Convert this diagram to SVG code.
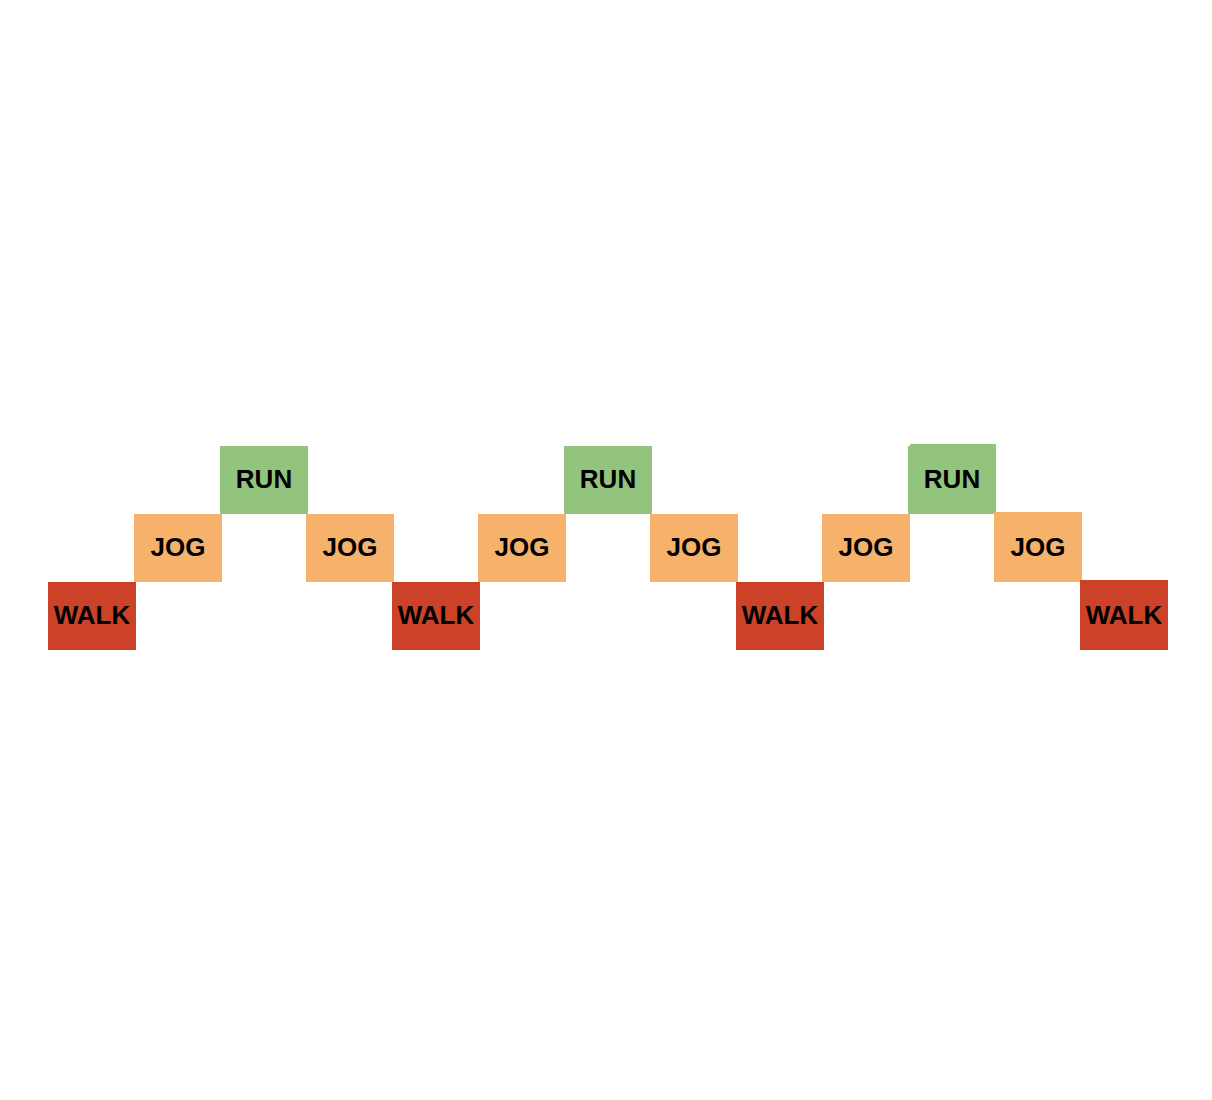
<svg xmlns="http://www.w3.org/2000/svg" width="1212" height="1100" viewBox="0 0 1212 1100">
<style>
.walk{fill:#CC4229}
.jog{fill:#F6B26B}
.run{fill:#93C47D}
text{font-family:"Liberation Sans",Arial,sans-serif;font-weight:bold;font-size:26px;fill:#000;text-anchor:middle}
</style>
<rect width="1212" height="1100" fill="#fff"/>
<g id="connectors"/>
<g id="walk1"><rect class="walk" x="48" y="582" width="88" height="68"/><text x="92" y="624">WALK</text></g>
<g id="jog1"><rect class="jog" x="134" y="514" width="88" height="68"/><text x="178" y="556">JOG</text></g>
<g id="run1"><rect class="run" x="220" y="446" width="88" height="68"/><text x="264" y="488">RUN</text></g>
<g id="jog2"><rect class="jog" x="306" y="514" width="88" height="68"/><text x="350" y="556">JOG</text></g>
<g id="walk2"><rect class="walk" x="392" y="582" width="88" height="68"/><text x="436" y="624">WALK</text></g>
<g id="jog3"><rect class="jog" x="478" y="514" width="88" height="68"/><text x="522" y="556">JOG</text></g>
<g id="run2"><rect class="run" x="564" y="446" width="88" height="68"/><text x="608" y="488">RUN</text></g>
<g id="jog4"><rect class="jog" x="650" y="514" width="88" height="68"/><text x="694" y="556">JOG</text></g>
<g id="walk3"><rect class="walk" x="736" y="582" width="88" height="68"/><text x="780" y="624">WALK</text></g>
<g id="jog5"><rect class="jog" x="822" y="514" width="88" height="68"/><text x="866" y="556">JOG</text></g>
<g id="run3"><path class="run" d="M910,444 H996 V514 H908 V446 H910 Z"/><text x="952" y="488">RUN</text></g>
<g id="jog6"><rect class="jog" x="994" y="512" width="88" height="70"/><text x="1038" y="556">JOG</text></g>
<g id="walk4"><rect class="walk" x="1080" y="580" width="88" height="70"/><text x="1124" y="624">WALK</text></g>
</svg>
